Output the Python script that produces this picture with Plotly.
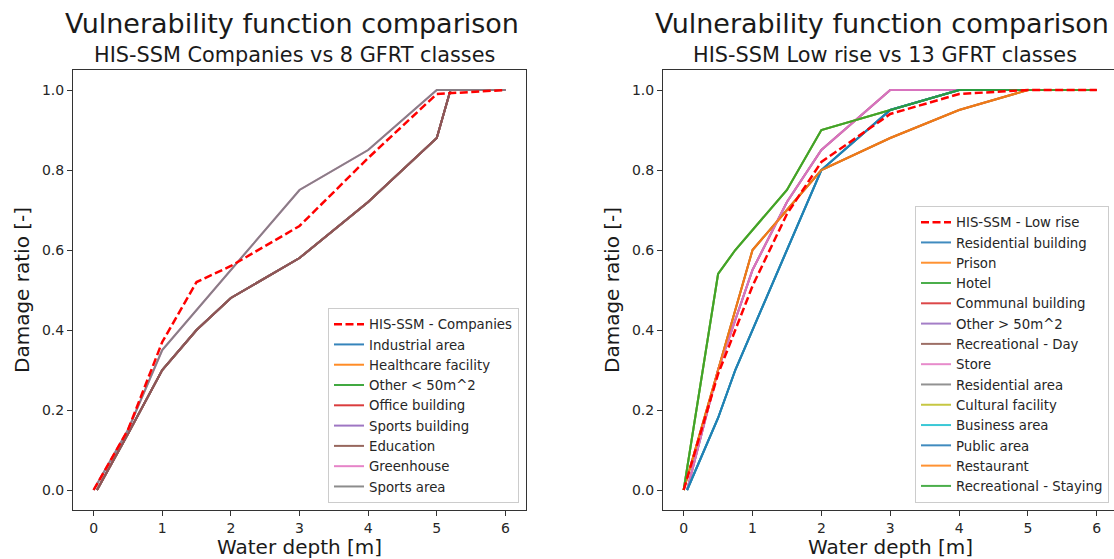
import plotly.graph_objects as go

# ---------------- data ----------------
# Left panel: HIS-SSM Companies vs 8 GFRT classes
his_comp_depth = [0, 0.5, 1, 1.5, 2, 3, 4, 5, 6]
his_comp_damage = [0, 0.15, 0.37, 0.52, 0.56, 0.66, 0.83, 0.99, 1.0]

comp_low_depth = [0.05, 0.5, 1, 1.5, 2, 3, 4, 5, 5.2, 6]
comp_low_damage = [0, 0.14, 0.30, 0.40, 0.48, 0.58, 0.72, 0.88, 1.0, 1.0]

comp_high_depth = [0, 0.5, 1, 1.5, 2, 3, 4, 5, 6]
comp_high_damage = [0, 0.15, 0.35, 0.45, 0.55, 0.75, 0.85, 1.0, 1.0]

comp_classes = ["Industrial area", "Healthcare facility", "Other < 50m^2",
                "Office building", "Sports building", "Education",
                "Greenhouse", "Sports area"]
comp_curve_of_class = ["low", "low", "low", "low", "low", "low", "high", "high"]

# Right panel: HIS-SSM Low rise vs 13 GFRT classes
his_low_depth = [0, 0.5, 1, 1.5, 2, 3, 4, 5, 6]
his_low_damage = [0, 0.29, 0.51, 0.69, 0.82, 0.94, 0.99, 1.0, 1.0]

res_depth = [0.05, 0.5, 0.75, 1, 1.5, 2, 3, 4, 5, 6]
res_damage = [0, 0.18, 0.30, 0.40, 0.60, 0.80, 0.95, 1.0, 1.0, 1.0]

prison_depth = [0, 0.5, 1, 1.5, 2, 3, 4, 5, 6]
prison_damage = [0, 0.30, 0.60, 0.70, 0.80, 0.88, 0.95, 1.0, 1.0]

hotel_depth = [0, 0.5, 0.75, 1, 1.5, 2, 3, 4, 5, 6]
hotel_damage = [0, 0.54, 0.60, 0.65, 0.75, 0.90, 0.95, 1.0, 1.0, 1.0]

store_depth = [0.05, 0.5, 1, 1.5, 2, 3, 4, 5, 6]
store_damage = [0, 0.30, 0.55, 0.72, 0.85, 1.0, 1.0, 1.0, 1.0]

low_classes = ["Residential building", "Prison", "Hotel", "Communal building",
               "Other > 50m^2", "Recreational - Day", "Store", "Residential area",
               "Cultural facility", "Business area", "Public area", "Restaurant",
               "Recreational - Staying"]
low_curve_of_class = ["res", "prison", "hotel", "store", "store", "prison", "store",
                      "res", "hotel", "res", "res", "prison", "hotel"]

x_ticks = [0, 1, 2, 3, 4, 5, 6]
y_ticks = [0.0, 0.2, 0.4, 0.6, 0.8, 1.0]

tab10 = ["#1f77b4", "#ff7f0e", "#2ca02c", "#d62728", "#9467bd",
         "#8c564b", "#e377c2", "#7f7f7f", "#bcbd22", "#17becf"]

FONT = "DejaVu Sans"
W, H = 1114, 559

comp_curves = {"low": (comp_low_depth, comp_low_damage),
               "high": (comp_high_depth, comp_high_damage)}
low_curves = {"res": (res_depth, res_damage),
              "prison": (prison_depth, prison_damage),
              "hotel": (hotel_depth, hotel_damage),
              "store": (store_depth, store_damage)}

fig = go.Figure()

for i, (name, key) in enumerate(zip(comp_classes, comp_curve_of_class)):
    xs, ys = comp_curves[key]
    fig.add_trace(go.Scatter(x=xs, y=ys, mode="lines", name=name,
                             line=dict(color=tab10[i % 10], width=2),
                             opacity=0.9, xaxis="x", yaxis="y",
                             legend="legend", legendrank=1001 + i))
fig.add_trace(go.Scatter(x=his_comp_depth, y=his_comp_damage, mode="lines",
                         name="HIS-SSM - Companies",
                         line=dict(color="red", width=2.5, dash="8px,3.5px"),
                         xaxis="x", yaxis="y", legend="legend", legendrank=1))

for i, (name, key) in enumerate(zip(low_classes, low_curve_of_class)):
    xs, ys = low_curves[key]
    fig.add_trace(go.Scatter(x=xs, y=ys, mode="lines", name=name,
                             line=dict(color=tab10[i % 10], width=2),
                             opacity=0.85, xaxis="x2", yaxis="y2",
                             legend="legend2", legendrank=1001 + i))
fig.add_trace(go.Scatter(x=his_low_depth, y=his_low_damage, mode="lines",
                         name="HIS-SSM - Low rise",
                         line=dict(color="red", width=2.5, dash="8px,3.5px"),
                         xaxis="x2", yaxis="y2", legend="legend2", legendrank=1))

L_AX = (73, 526)
R_AX = (663, 1114)
TOP, BOT = 70, 510


def px_x(p):
    return p / W


def px_y(p):
    return 1 - p / H


axis_common = dict(showline=True, linecolor="#333333", linewidth=1,
                   ticks="outside", ticklen=5, tickwidth=1, tickcolor="#333333",
                   showgrid=False, zeroline=False, automargin=False,
                   tickfont=dict(family=FONT, size=14, color="#262626"))

fig.update_layout(
    width=W, height=H, autosize=False,
    margin=dict(l=0, r=0, t=0, b=0),
    paper_bgcolor="white", plot_bgcolor="white",
    font=dict(family=FONT, color="#262626"),
    xaxis=dict(domain=[px_x(L_AX[0]), px_x(L_AX[1])], range=[-0.3, 6.3],
               tickvals=x_ticks, mirror=True, anchor="y", **axis_common),
    yaxis=dict(domain=[px_y(BOT), px_y(TOP)], range=[-0.05, 1.05],
               tickvals=y_ticks, tickformat=".1f", mirror=True, anchor="x",
               **axis_common),
    xaxis2=dict(domain=[px_x(R_AX[0]), 1.0], range=[-0.3, 6.25],
                tickvals=x_ticks, mirror=True, anchor="y2", **axis_common),
    yaxis2=dict(domain=[px_y(BOT), px_y(TOP)], range=[-0.05, 1.05],
                tickvals=y_ticks, tickformat=".1f", mirror=False, anchor="x2",
                **axis_common),
    legend=dict(x=px_x(519), y=px_y(503), xanchor="right", yanchor="bottom",
                bgcolor="rgba(255,255,255,0.9)", bordercolor="#cccccc",
                borderwidth=1, font=dict(family=FONT, size=13.3, color="#262626")),
    legend2=dict(x=px_x(1109), y=px_y(503), xanchor="right", yanchor="bottom",
                 bgcolor="rgba(255,255,255,0.9)", bordercolor="#cccccc",
                 borderwidth=1, font=dict(family=FONT, size=13.3, color="#262626")),
    showlegend=True,
)

ann = []
centers = [((L_AX[0] + L_AX[1]) / 2, 22, "HIS-SSM Companies vs 8 GFRT classes"),
           ((R_AX[0] + 1117) / 2, 612, "HIS-SSM Low rise vs 13 GFRT classes")]
for cx, ylab_x, sub in centers:
    ann.append(dict(text="Vulnerability function comparison", x=px_x(cx - 8), y=px_y(24),
                    xref="paper", yref="paper", xanchor="center", yanchor="middle",
                    showarrow=False, font=dict(family=FONT, size=27, color="#1a1a1a")))
    ann.append(dict(text=sub, x=px_x(cx - 5), y=px_y(54.5),
                    xref="paper", yref="paper", xanchor="center", yanchor="middle",
                    showarrow=False, font=dict(family=FONT, size=20.8, color="#1a1a1a")))
    ann.append(dict(text="Water depth [m]", x=px_x(cx), y=px_y(547),
                    xref="paper", yref="paper", xanchor="center", yanchor="middle",
                    showarrow=False, font=dict(family=FONT, size=20, color="#1a1a1a")))
    ann.append(dict(text="Damage ratio [-]", x=px_x(ylab_x), y=px_y(290),
                    xref="paper", yref="paper", xanchor="center", yanchor="middle",
                    textangle=-90, showarrow=False,
                    font=dict(family=FONT, size=20, color="#1a1a1a")))
fig.update_layout(annotations=ann)

fig.write_html("out.html")
